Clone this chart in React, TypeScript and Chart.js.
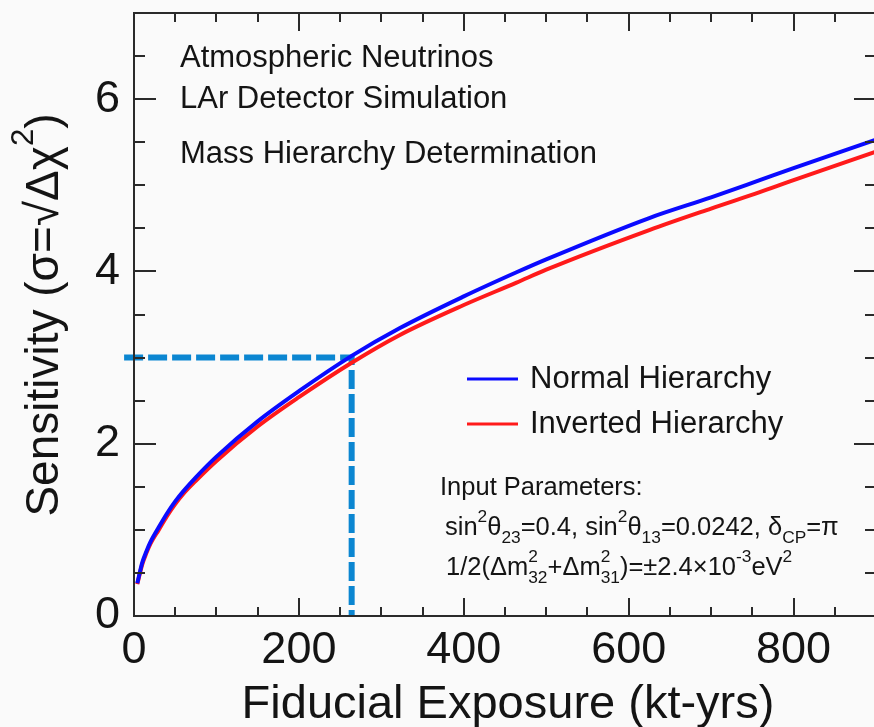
import React, { useEffect, useRef } from "react";
import { Chart, registerables } from "chart.js";
Chart.register(...registerables);

// ---- data ----
const exposure = [4, 10, 15, 20, 30, 40, 50, 60, 75, 100, 150, 200, 264, 322, 400, 464, 500, 625, 700, 759, 800, 900];
const normalSens = [0.38, 0.62, 0.75, 0.86, 1.03, 1.19, 1.33, 1.45, 1.61, 1.85, 2.26, 2.61, 3.02, 3.34, 3.71, 3.99, 4.14, 4.62, 4.86, 5.06, 5.2, 5.53];
const invertedSens = [0.37, 0.6, 0.73, 0.84, 1.0, 1.16, 1.3, 1.42, 1.57, 1.8, 2.2, 2.54, 2.94, 3.26, 3.61, 3.87, 4.02, 4.48, 4.73, 4.92, 5.06, 5.39];
const guideX = [-12, 264, 264];
const guideY = [3, 3, 0];
const xTickValues = [0, 200, 400, 600, 800];
const yTickValues = [0, 2, 4, 6];
const seriesNames = ["Normal Hierarchy", "Inverted Hierarchy"];
const seriesColors = ["#0a0aff", "#ff1a1a"];
const annotationLines = ["Atmospheric Neutrinos", "LAr Detector Simulation", "Mass Hierarchy Determination"];

const FONT = '"Liberation Sans", Arial, Helvetica, sans-serif';
const TEXT = "#141414";
const CANVAS_W = 890;
const CANVAS_H = 727;

type Part = string | { sup?: string; sub?: string };

function drawRich(ctx: CanvasRenderingContext2D, x: number, y: number, parts: Part[], size: number, supScale = 0.68, supRaise = 0.5, subDrop = 0.32, draw = true) {
  let cx = x;
  for (const p of parts) {
    if (typeof p === "string") {
      ctx.font = `${size}px ${FONT}`;
      if (draw) ctx.fillText(p, cx, y);
      cx += ctx.measureText(p).width;
    } else {
      const s = size * supScale;
      ctx.font = `${s}px ${FONT}`;
      let w = 0;
      if (p.sup) {
        if (draw) ctx.fillText(p.sup, cx, y - size * supRaise);
        w = Math.max(w, ctx.measureText(p.sup).width);
      }
      if (p.sub) {
        if (draw) ctx.fillText(p.sub, cx, y + size * subDrop);
        w = Math.max(w, ctx.measureText(p.sub).width);
      }
      cx += w;
    }
  }
  return cx - x;
}

const framePlugin = {
  id: "framePlugin",
  beforeDraw(chart: any) {
    const ctx = chart.ctx as CanvasRenderingContext2D;
    ctx.save();
    ctx.fillStyle = "#fafafa";
    ctx.fillRect(0, 0, chart.width, chart.height);
    ctx.restore();
  },
  afterDraw(chart: any) {
    const ctx = chart.ctx as CanvasRenderingContext2D;
    const { left, right, top, bottom } = chart.chartArea;
    const xs = chart.scales.x;
    const ys = chart.scales.y;
    ctx.save();
    ctx.strokeStyle = "#2a2a2a";
    ctx.lineWidth = 2;
    ctx.strokeRect(left, top, right - left, bottom - top);
    ctx.beginPath();
    for (let v = 0; v <= 900; v += 50) {
      const px = Math.round(xs.getPixelForValue(v));
      const len = v % 200 === 0 ? 18 : 9;
      ctx.moveTo(px, bottom);
      ctx.lineTo(px, bottom - len);
      ctx.moveTo(px, top);
      ctx.lineTo(px, top + len);
    }
    for (let v = 0; v <= 7; v += 0.5) {
      const py = Math.round(ys.getPixelForValue(v));
      const len = v % 2 === 0 ? 22 : 11;
      ctx.moveTo(left, py);
      ctx.lineTo(left + len, py);
      ctx.moveTo(right, py);
      ctx.lineTo(right - len, py);
    }
    ctx.stroke();

    ctx.fillStyle = TEXT;
    ctx.textBaseline = "alphabetic";
    ctx.textAlign = "left";

    // annotation text
    ctx.font = `31px ${FONT}`;
    ctx.fillText(annotationLines[0], 180, 67);
    ctx.fillText(annotationLines[1], 180, 108);
    ctx.fillText(annotationLines[2], 180, 163);

    // legend
    const legendY = [379, 424];
    for (let i = 0; i < 2; i++) {
      ctx.strokeStyle = seriesColors[i];
      ctx.lineWidth = 3;
      ctx.beginPath();
      ctx.moveTo(467, legendY[i]);
      ctx.lineTo(518, legendY[i]);
      ctx.stroke();
      ctx.font = `31px ${FONT}`;
      ctx.fillText(seriesNames[i], 530, legendY[i] + 9);
    }

    // input parameters
    ctx.font = `25.5px ${FONT}`;
    ctx.fillText("Input Parameters:", 440, 495);
    drawRich(ctx, 445, 535, ["sin", { sup: "2" }, "θ", { sub: "23" }, "=0.4, sin", { sup: "2" }, "θ", { sub: "13" }, "=0.0242, δ", { sub: "CP" }, "=π"], 25.5);
    drawRich(ctx, 446, 575, ["1/2(Δm", { sup: "2", sub: "32" }, "+Δm", { sup: "2", sub: "31" }, ")=±2.4×10", { sup: "-3" }, "eV", { sup: "2" }], 25.5);

    // x axis title
    ctx.font = `47px ${FONT}`;
    ctx.textAlign = "center";
    ctx.fillText("Fiducial Exposure (kt-yrs)", 508, 718);

    // y axis title
    ctx.textAlign = "left";
    const yParts: Part[] = ["Sensitivity (σ=√Δχ", { sup: "2" }, ")"];
    const ySize = 46;
    const total = drawRich(ctx, 0, 0, yParts, ySize, 0.68, 0.55, 0.3, false);
    ctx.translate(58, 315);
    ctx.rotate(-Math.PI / 2);
    drawRich(ctx, -total / 2, 0, yParts, ySize, 0.68, 0.55, 0.3, true);
    ctx.restore();
  },
};

export default function App() {
  const ref = useRef<HTMLCanvasElement>(null);
  useEffect(() => {
    if (!ref.current) return;
    const chart = new Chart(ref.current, {
      type: "line",
      data: {
        datasets: [
          {
            label: seriesNames[0],
            data: exposure.map((x, i) => ({ x, y: normalSens[i] })),
            borderColor: seriesColors[0],
            borderWidth: 4,
            pointRadius: 0,
            cubicInterpolationMode: "monotone",
            fill: false,
          },
          {
            label: seriesNames[1],
            data: exposure.map((x, i) => ({ x, y: invertedSens[i] })),
            borderColor: seriesColors[1],
            borderWidth: 4,
            pointRadius: 0,
            cubicInterpolationMode: "monotone",
            fill: false,
          },
          {
            label: "3σ guide",
            data: guideX.map((x, i) => ({ x, y: guideY[i] })),
            borderColor: "#0b86d1",
            borderWidth: 6,
            borderDash: [19, 5],
            pointRadius: 0,
            tension: 0,
            fill: false,
            clip: false as any,
          },
        ],
      },
      options: {
        responsive: false,
        devicePixelRatio: 1,
        animation: false,
        layout: { padding: { top: 13, right: CANVAS_W - 876, bottom: 0, left: 0 } },
        plugins: { legend: { display: false }, tooltip: { enabled: false } },
        scales: {
          x: {
            type: "linear",
            min: 0,
            max: 900,
            afterBuildTicks: (s: any) => {
              s.ticks = xTickValues.map((v) => ({ value: v }));
            },
            afterFit: (s: any) => {
              s.height = 111;
              s.paddingLeft = 0;
              s.paddingRight = 0;
            },
            ticks: { font: { size: 45, family: FONT }, color: TEXT, padding: 8, maxRotation: 0, autoSkip: false },
            grid: { display: false, drawTicks: false },
            border: { display: false },
          },
          y: {
            type: "linear",
            min: 0,
            max: 7,
            afterBuildTicks: (s: any) => {
              s.ticks = yTickValues.map((v) => ({ value: v }));
            },
            afterFit: (s: any) => {
              s.width = 134;
              s.paddingTop = 0;
              s.paddingBottom = 0;
            },
            ticks: { font: { size: 45, family: FONT }, color: TEXT, padding: 14, autoSkip: false },
            grid: { display: false, drawTicks: false },
            border: { display: false },
          },
        },
      },
      plugins: [framePlugin],
    });
    return () => chart.destroy();
  }, []);
  return (
    <div style={{ position: "fixed", left: 0, top: 0, width: 874, height: 727, overflow: "hidden", background: "#fafafa" }}>
      <canvas ref={ref} width={CANVAS_W} height={CANVAS_H} style={{ display: "block", width: CANVAS_W, height: CANVAS_H }} />
    </div>
  );
}
